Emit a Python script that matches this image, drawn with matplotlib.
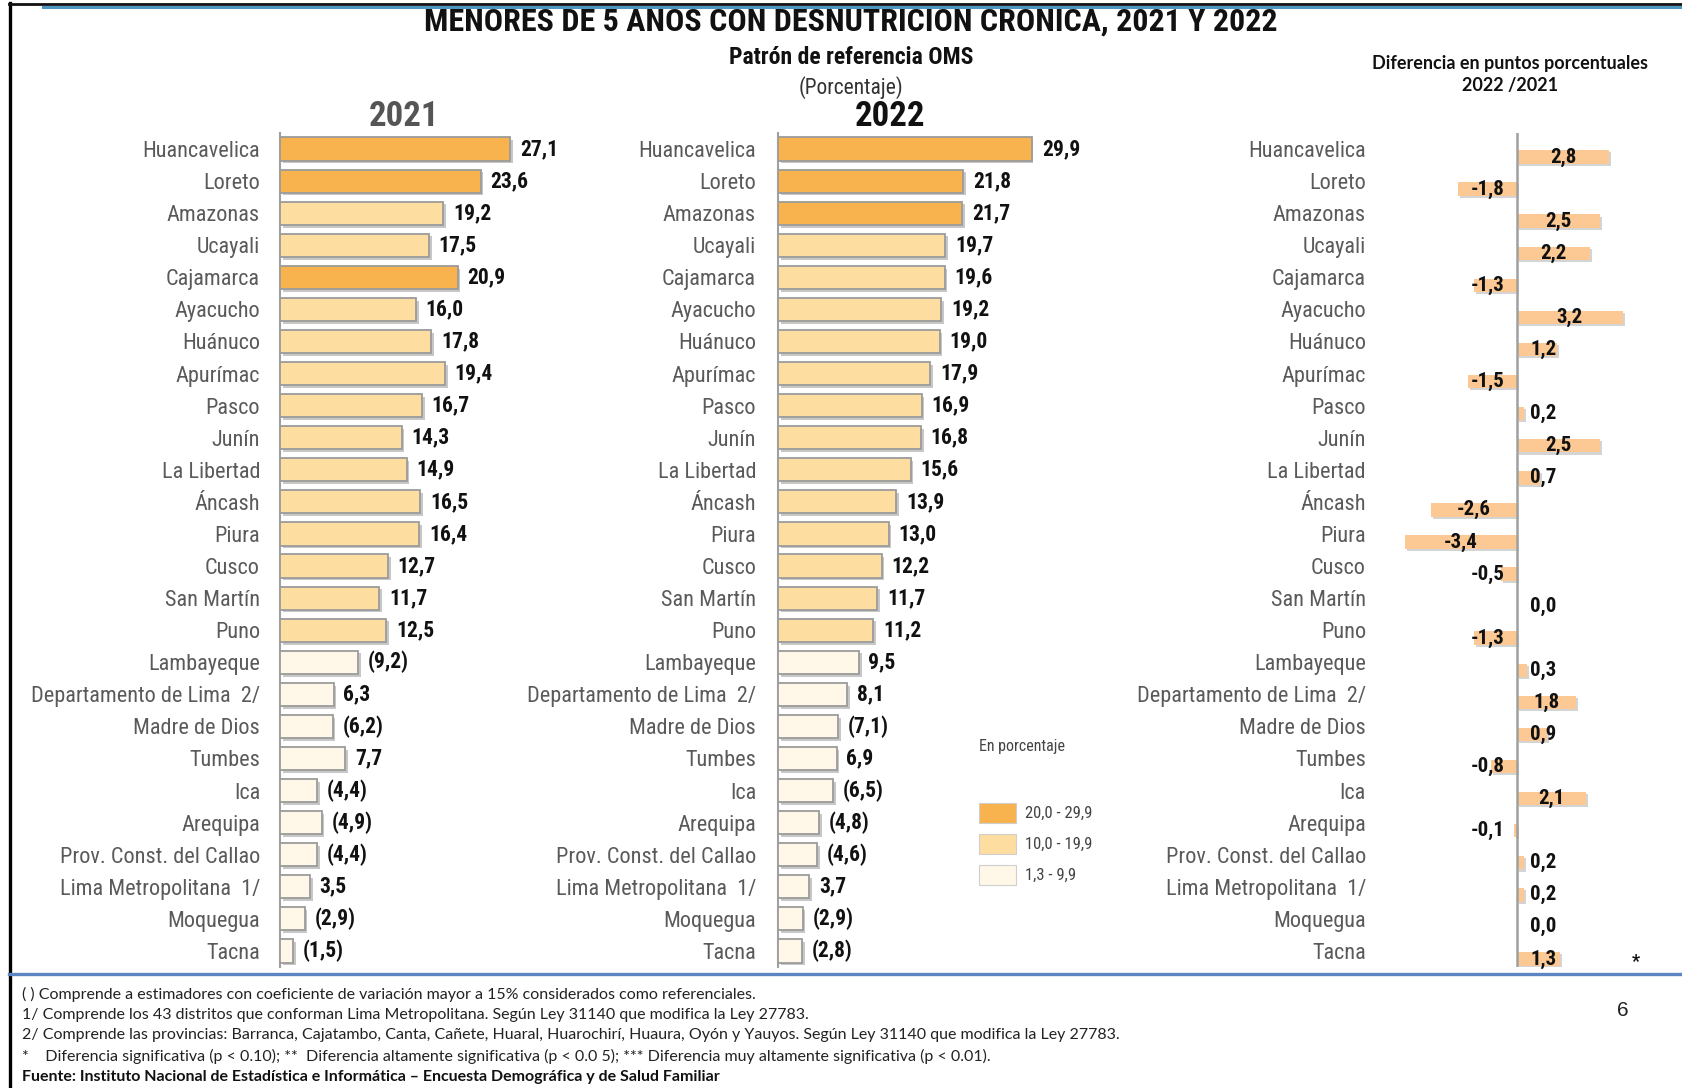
import matplotlib
matplotlib.use("Agg")
import matplotlib.pyplot as plt
from matplotlib import font_manager as fm
from matplotlib.lines import Line2D
from matplotlib.patches import Rectangle
import matplotlib.patheffects as pe

# ---------------- data ----------------
regions = ["Huancavelica", "Loreto", "Amazonas", "Ucayali", "Cajamarca", "Ayacucho",
           "Huánuco", "Apurímac", "Pasco", "Junín", "La Libertad", "Áncash", "Piura",
           "Cusco", "San Martín", "Puno", "Lambayeque", "Departamento de Lima  2/",
           "Madre de Dios", "Tumbes", "Ica", "Arequipa", "Prov. Const. del Callao",
           "Lima Metropolitana  1/", "Moquegua", "Tacna"]
v2021 = [27.1, 23.6, 19.2, 17.5, 20.9, 16.0, 17.8, 19.4, 16.7, 14.3, 14.9, 16.5, 16.4,
         12.7, 11.7, 12.5, 9.2, 6.3, 6.2, 7.7, 4.4, 4.9, 4.4, 3.5, 2.9, 1.5]
ref2021 = [0]*16 + [1, 0, 1, 0, 1, 1, 1, 0, 1, 1]
v2022 = [29.9, 21.8, 21.7, 19.7, 19.6, 19.2, 19.0, 17.9, 16.9, 16.8, 15.6, 13.9, 13.0,
         12.2, 11.7, 11.2, 9.5, 8.1, 7.1, 6.9, 6.5, 4.8, 4.6, 3.7, 2.9, 2.8]
ref2022 = [0]*16 + [0, 0, 1, 0, 1, 1, 1, 0, 1, 1]
diff = [2.8, -1.8, 2.5, 2.2, -1.3, 3.2, 1.2, -1.5, 0.2, 2.5, 0.7, -2.6, -3.4, -0.5, 0.0,
        -1.3, 0.3, 1.8, 0.9, -0.8, 2.1, -0.1, 0.2, 0.2, 0.0, 1.3]
signif = [""]*25 + ["*"]
legend_labels = ["20,0 - 29,9", "10,0 - 19,9", "1,3 - 9,9"]

# ---------------- fonts ----------------
def pick(names):
    for n in names:
        try:
            fm.findfont(fm.FontProperties(family=n), fallback_to_default=False)
            return n
        except Exception:
            pass
    return "DejaVu Sans"

NARROW = pick(["Liberation Sans Narrow", "DejaVu Sans Condensed", "Roboto Condensed", "Liberation Sans"])
BODY = pick(["Lato", "Liberation Sans"])
plt.rcParams["font.family"] = [NARROW, "DejaVu Sans"]

W, H = 1682, 1088
fig = plt.figure(figsize=(W/100, H/100), dpi=100)
fig.patch.set_facecolor("white")

def fx(x): return x / W
def fy(y): return 1 - y / H
def rect(left, top, w, h): return [left / W, 1 - (top + h) / H, w / W, h / H]

C_DARK, C_MID, C_LIGHT = "#F8B24E", "#FDDDA0", "#FFF8E8"
C_DIFF = "#FCC893"
LABEL_GRAY = "#5a5a5a"

def cls(v):
    return C_DARK if v >= 20 else (C_MID if v >= 10 else C_LIGHT)

def fmt(v):
    return f"{v:.1f}".replace(".", ",")

ROW_TOP, ROW_H = 133, 834
n = len(regions)
ypos = list(range(n))
shadow = [pe.SimplePatchShadow(offset=(2, -2), shadow_rgbFace="#9a9a9a", alpha=0.55), pe.Normal()]

def bar_panel(left_px, vals, refs, pad_pt):
    ax = fig.add_axes(rect(left_px, ROW_TOP, 255, ROW_H))
    ax.set_xlim(0, 30)
    ax.set_ylim(n - 0.5, -0.5)
    bars = ax.barh(ypos, vals, height=0.72, color=[cls(v) for v in vals],
                   edgecolor="#9b9b9b", linewidth=1.3, zorder=3)
    for b in bars:
        b.set_path_effects(shadow)
    for i, (v, r) in enumerate(zip(vals, refs)):
        t = f"({fmt(v)})" if r else fmt(v)
        ax.annotate(t, (v, i), xytext=(7, 0), textcoords="offset points",
                    ha="left", va="center", fontsize=15.5, fontweight="bold",
                    color="#111111", annotation_clip=False)
    ax.set_yticks(ypos)
    ax.set_yticklabels(regions, fontsize=16, color=LABEL_GRAY)
    ax.tick_params(axis="y", length=0, pad=pad_pt)
    ax.set_xticks([])
    for s in ("top", "right", "bottom"):
        ax.spines[s].set_visible(False)
    ax.spines["left"].set_color("#a0a0a0")
    ax.spines["left"].set_linewidth(1.5)
    ax.patch.set_alpha(0)
    return ax

ax1 = bar_panel(280, v2021, ref2021, 14.4)
ax2 = bar_panel(778, v2022, ref2022, 15.8)

# difference panel
ax3 = fig.add_axes(rect(1385, ROW_TOP, 264, ROW_H))
ax3.set_xlim(-4, 4)
ax3.set_ylim(n - 0.5, -0.5)
yd = [y + 0.25 for y in ypos]
dbars = ax3.barh(yd, diff, height=0.42, color=C_DIFF, linewidth=0, zorder=3)
for b in dbars:
    b.set_path_effects([pe.SimplePatchShadow(offset=(1.5, -1.5), shadow_rgbFace="#aaaaaa", alpha=0.5), pe.Normal()])
ax3.axvline(0, color="#a0a0a0", lw=1.8, zorder=4)
for i, v in enumerate(diff):
    xc = max(v / 2, 0.8) if v >= 0 else min(v / 2, -0.9)
    ax3.text(xc, yd[i], fmt(v), ha="center", va="center", fontsize=15,
             fontweight="bold", color="#111111", zorder=5)
    if signif[i]:
        ax3.text(3.6, yd[i] + 0.1, signif[i], ha="center", va="center",
                 fontsize=13, fontweight="bold", color="#111111")
ax3.set_yticks(ypos)
ax3.set_yticklabels(regions, fontsize=16, color=LABEL_GRAY)
ax3.tick_params(axis="y", length=0, pad=13.7)
ax3.set_xticks([])
for s in ax3.spines.values():
    s.set_visible(False)
ax3.patch.set_alpha(0)

# ---------------- titles ----------------
fig.text(fx(851), fy(22), "MENORES DE 5 ANOS CON DESNUTRICION CRONICA, 2021 Y 2022",
         ha="center", va="center", fontsize=23, fontweight="bold", color="#111111")
fig.text(fx(851), fy(57), "Patrón de referencia OMS", ha="center", va="center",
         fontsize=17, fontweight="bold", color="#111111")
fig.text(fx(851), fy(88), "(Porcentaje)", ha="center", va="center",
         fontsize=15.5, color="#333333")
fig.text(fx(404), fy(116), "2021", ha="center", va="center", fontsize=25,
         fontweight="bold", color="#555555")
fig.text(fx(890), fy(116), "2022", ha="center", va="center", fontsize=25,
         fontweight="bold", color="#111111")
fig.text(fx(1510), fy(63), "Diferencia en puntos porcentuales", ha="center", va="center",
         fontsize=13, fontweight="bold", color="#111111", family=[BODY, "DejaVu Sans"])
fig.text(fx(1510), fy(86), "2022 /2021", ha="center", va="center",
         fontsize=13, fontweight="bold", color="#111111", family=[BODY, "DejaVu Sans"])

# ---------------- legend ----------------
fig.text(fx(979), fy(747), "En porcentaje", ha="left", va="center", fontsize=11.5,
         color="#444444")
for k, (c, lab) in enumerate(zip([C_DARK, C_MID, C_LIGHT], legend_labels)):
    yc = 813 + 31 * k
    fig.add_artist(Rectangle((fx(979), fy(yc + 10)), 37 / W, 20 / H, transform=fig.transFigure,
                             facecolor=c, edgecolor="#cfcfcf", linewidth=0.8))
    fig.text(fx(1025), fy(yc), lab, ha="left", va="center", fontsize=12, color="#444444")

# ---------------- frame ----------------
fig.add_artist(Line2D([fx(9.5), fx(9.5)], [fy(3), fy(1088)], transform=fig.transFigure,
                      color="black", lw=2.4))
fig.add_artist(Line2D([fx(9), fx(1682)], [fy(3.5), fy(3.5)], transform=fig.transFigure,
                      color="#111111", lw=2.0))
fig.add_artist(Line2D([fx(43), fx(1682)], [fy(6.5), fy(6.5)], transform=fig.transFigure,
                      color="#4E97C0", lw=2.2))
fig.add_artist(Line2D([fx(9), fx(1682)], [fy(974), fy(974)], transform=fig.transFigure,
                      color="#5A85C0", lw=2.4))

# ---------------- footnotes ----------------
notes = [
    "( ) Comprende a estimadores con coeficiente de variación mayor a 15% considerados como referenciales.",
    "1/ Comprende los 43 distritos que conforman Lima Metropolitana. Según Ley 31140 que modifica la Ley 27783.",
    "2/ Comprende las provincias: Barranca, Cajatambo, Canta, Cañete, Huaral, Huarochirí, Huaura, Oyón y Yauyos. Según Ley 31140 que modifica la Ley 27783.",
    "*    Diferencia significativa (p < 0.10); **  Diferencia altamente significativa (p < 0.0 5); *** Diferencia muy altamente significativa (p < 0.01).",
]
for k, t in enumerate(notes):
    fig.text(fx(22), fy(994 + 20.7 * k), t, ha="left", va="center", fontsize=11.5,
             color="#222222", family=[BODY, "DejaVu Sans"])
fig.text(fx(22), fy(1077), "Fuente: Instituto Nacional de Estadística e Informática – Encuesta Demográfica y de Salud Familiar",
         ha="left", va="center", fontsize=11.5, fontweight="bold", color="#111111",
         family=[BODY, "DejaVu Sans"])
fig.text(fx(1623), fy(1011), "6", ha="center", va="center", fontsize=15, color="#222222",
         family=["Liberation Sans", "DejaVu Sans"])

fig.savefig("out.png", dpi=100, facecolor="white")
